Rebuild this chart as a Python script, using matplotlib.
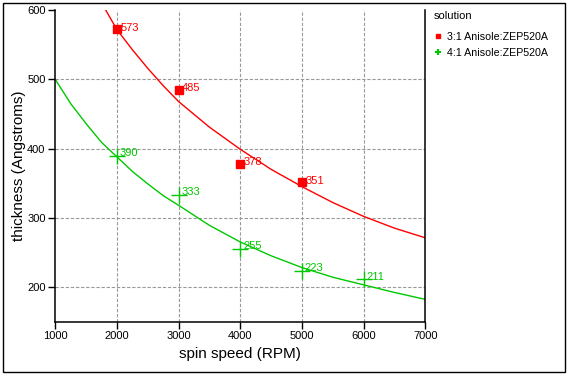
import matplotlib
matplotlib.use("Agg")
import matplotlib.pyplot as plt
from matplotlib.lines import Line2D
from matplotlib.patches import Rectangle

plt.rcParams['font.family'] = ['Liberation Sans', 'DejaVu Sans']

# measured points
speed_red = [2000, 3000, 4000, 5000]
thick_red = [573, 485, 378, 351]
speed_green = [2000, 3000, 4000, 5000, 6000]
thick_green = [390, 333, 255, 223, 211]

# fitted curves
curve_x_red = [1800, 2000, 2250, 2500, 2750, 3000, 3500, 4000, 4500, 5000, 5500, 6000, 6500, 7000]
curve_y_red = [603, 572, 543, 516, 491, 468, 431, 399, 370, 345, 322, 302, 285, 271]
curve_x_green = [1000, 1250, 1500, 1750, 2000, 2250, 2500, 2750, 3000, 3500, 4000, 4500,
                 5000, 5500, 6000, 6500, 7000]
curve_y_green = [500, 465, 436, 409, 388, 367, 349, 332, 318, 289, 265, 245,
                 228, 214, 203, 192, 182]

series_names = ['3:1 Anisole:ZEP520A', '4:1 Anisole:ZEP520A']
x_ticks = [1000, 2000, 3000, 4000, 5000, 6000, 7000]
y_ticks = [200, 300, 400, 500, 600]

RED = '#ff0000'
GREEN = '#00c800'

fig = plt.figure(figsize=(5.7, 3.77), dpi=100)
ax = fig.add_axes([55.3 / 570, 1 - 321.5 / 377, 370 / 570, 311.2 / 377])

ax.plot(curve_x_red, curve_y_red, color=RED, lw=1)
ax.plot(curve_x_green, curve_y_green, color=GREEN, lw=1)

ax.plot(speed_red, thick_red, 's', color=RED, ms=5.5, ls='none', zorder=4)
ax.plot(speed_green, thick_green, '+', color=GREEN, ms=11, mew=1, ls='none', zorder=4)

for x, y in zip(speed_red, thick_red):
    ax.annotate(str(y), (x, y), xytext=(2.5, 1), textcoords='offset points',
                va='center', ha='left', color=RED, fontsize=8)
for x, y in zip(speed_green, thick_green):
    ax.annotate(str(y), (x, y), xytext=(2, 2), textcoords='offset points',
                va='center', ha='left', color=GREEN, fontsize=8)

ax.set_xlim(1000, 7000)
ax.set_ylim(150, 600)
ax.set_xticks(x_ticks)
ax.set_yticks(y_ticks)
ax.tick_params(labelsize=8, length=5, width=1, pad=2)

ax.grid(True, color='#999999', ls=(0, (3, 1.6)), lw=0.8)
ax.get_ygridlines()[-1].set_visible(False)
ax.get_xgridlines()[0].set_visible(False)
ax.get_xgridlines()[-1].set_visible(False)

ax.spines['top'].set_visible(False)
for s in ['left', 'bottom', 'right']:
    ax.spines[s].set_linewidth(1.1)

ax.set_xlabel('spin speed (RPM)', fontsize=11, labelpad=4)
ax.set_ylabel('thickness (Angstroms)', fontsize=11, labelpad=1)

handles = [
    Line2D([], [], marker='s', color=RED, ls='none', ms=2.5),
    Line2D([], [], marker='+', color=GREEN, ls='none', ms=5, mew=1.5),
]
leg = fig.legend(handles, series_names, title='solution', loc='upper left',
                 bbox_to_anchor=(425 / 570, 1 - 2 / 377), frameon=False,
                 fontsize=7.7, title_fontsize=8, handlelength=0.8,
                 handletextpad=0.5, labelspacing=0.6, alignment='left',
                 borderpad=0.3)
leg._legend_box.sep = 8

fig.patches.append(Rectangle((2.5 / 570, 1 - 371.5 / 377), 562.5 / 570, 369 / 377,
                             transform=fig.transFigure, fill=False,
                             edgecolor='black', lw=1))

fig.savefig('out.png', dpi=100)
